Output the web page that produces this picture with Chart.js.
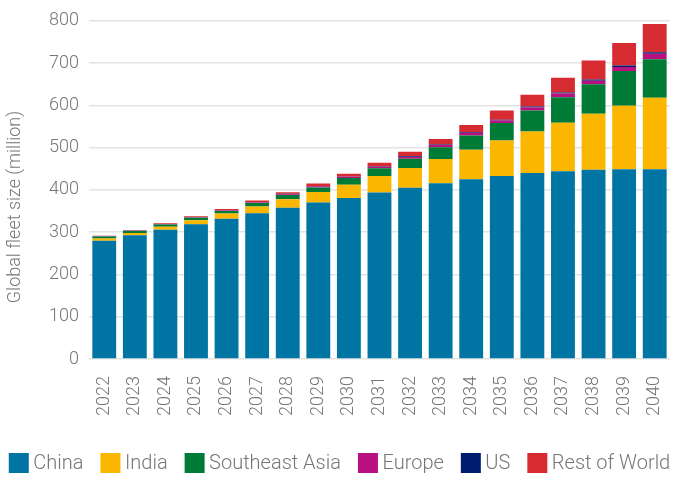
<!DOCTYPE html>
<html>
<head>
<meta charset="utf-8">
<script src="https://cdn.jsdelivr.net/npm/chart.js@4"></script>
<style>
  html, body { margin: 0; padding: 0; background: #fff; }
  #wrap { width: 673px; height: 477px; }
</style>
</head>
<body>
<div id="wrap"><canvas id="myChart"></canvas></div>
<script>
const years = ['2022', '2023', '2024', '2025', '2026', '2027', '2028', '2029', '2030', '2031',
  '2032', '2033', '2034', '2035', '2036', '2037', '2038', '2039', '2040']

const china = [280, 293, 306, 319, 332, 345, 358, 370, 381, 394, 405, 416, 425, 433, 440, 444, 448, 449, 449]
const india = [5, 5, 7, 9, 12, 16, 20, 25, 31, 39, 47, 57, 70, 84, 98, 115, 132, 150, 169]
const southeastAsia = [5, 5, 5, 6, 6, 8, 10, 11, 16, 18, 22, 28, 34, 41, 50, 60, 70, 82, 91]
const europe = [0.5, 0.5, 1, 1, 1.5, 1.5, 2, 2.5, 3, 4, 4, 5, 6, 6, 7, 9, 8, 10, 13]
const us = [0.3, 0.3, 0.4, 0.5, 0.5, 0.6, 0.7, 0.8, 1, 1.2, 1.5, 1.7, 1.8, 2, 2.2, 2.5, 3, 3.5, 3.5]
const restOfWorld = [1, 1, 2, 2, 3, 4, 4, 6, 6, 8, 11, 13, 17, 22, 28, 35, 45, 53, 67]

const yTicks = [0, 100, 200, 300, 400, 500, 600, 700, 800]
const yTitle = 'Global fleet size (million)'

const series = [
  { label: 'China', data: china, color: '#0074a2' },
  { label: 'India', data: india, color: '#fbb600' },
  { label: 'Southeast Asia', data: southeastAsia, color: '#007b36' },
  { label: 'Europe', data: europe, color: '#b8107f' },
  { label: 'US', data: us, color: '#001c70' },
  { label: 'Rest of World', data: restOfWorld, color: '#d72b32' },
]

const fontFamily = 'Roboto, "Open Sans", sans-serif'
const textColor = '#767676'
const tickFont = { family: fontFamily, size: 18, weight: 300 }

const datasets = series.map((s) => {
  return {
    label: s.label,
    data: s.data,
    backgroundColor: s.color,
    borderWidth: 0,
    categoryPercentage: 1,
    barPercentage: 0.78,
  }
})

// legend and axis title drawn by hand so they sit where the original has them
const extras = {
  id: 'extras',
  afterDraw(chart) {
    const ctx = chart.ctx
    ctx.save()
    ctx.fillStyle = textColor
    ctx.textBaseline = 'middle'

    // y axis title, a bit below the middle of the plot like the source
    ctx.font = `300 18px ${fontFamily}`
    ctx.save()
    ctx.translate(15.5, chart.chartArea.bottom - 152)
    ctx.rotate(-Math.PI / 2)
    ctx.textAlign = 'center'
    ctx.fillText(yTitle, 0, 0)
    ctx.restore()

    // legend
    const box = 20
    const textGap = 4.5
    const itemGap = 17
    ctx.font = `300 20px ${fontFamily}`
    const widths = series.map((s) => ctx.measureText(s.label).width)
    const total = widths.reduce((a, w) => a + box + textGap + w, 0) + itemGap * (series.length - 1)
    let x = (chart.width - total) / 2 + 3
    const yMid = 463
    ctx.textAlign = 'left'
    series.forEach((s, i) => {
      ctx.fillStyle = s.color
      ctx.fillRect(x, yMid - box / 2, box, box)
      ctx.fillStyle = textColor
      ctx.fillText(s.label, x + box + textGap, yMid + 1)
      x += box + textGap + widths[i] + itemGap
    })
    ctx.restore()
  },
}

const config = {
  type: 'bar',
  data: { labels: years, datasets },
  options: {
    responsive: true,
    maintainAspectRatio: false,
    animation: false,
    layout: { padding: { top: 5, right: 3, left: 39, bottom: 44 } },
    plugins: {
      tooltip: { enabled: false },
      legend: { display: false },
    },
    scales: {
      x: {
        stacked: true,
        grid: { display: false, drawTicks: false },
        border: { display: false },
        afterFit: (scale) => {
          // rotated labels make chart.js keep extra room on the right
          scale.paddingRight = 0
          scale.paddingLeft = 0
        },
        ticks: {
          color: textColor,
          font: tickFont,
          minRotation: 90,
          maxRotation: 90,
          padding: 17,
        },
      },
      y: {
        stacked: true,
        min: 0,
        max: 800,
        afterBuildTicks: (axis) => {
          axis.ticks = yTicks.map((v) => ({ value: v }))
        },
        grid: { color: '#e3e3e3', lineWidth: 1.5, drawTicks: false },
        border: { display: false },
        ticks: {
          color: textColor,
          font: tickFont,
          padding: 10,
        },
      },
    },
  },
  plugins: [extras],
}

const myChart = new Chart(document.getElementById('myChart'), config)
</script>
</body>
</html>
